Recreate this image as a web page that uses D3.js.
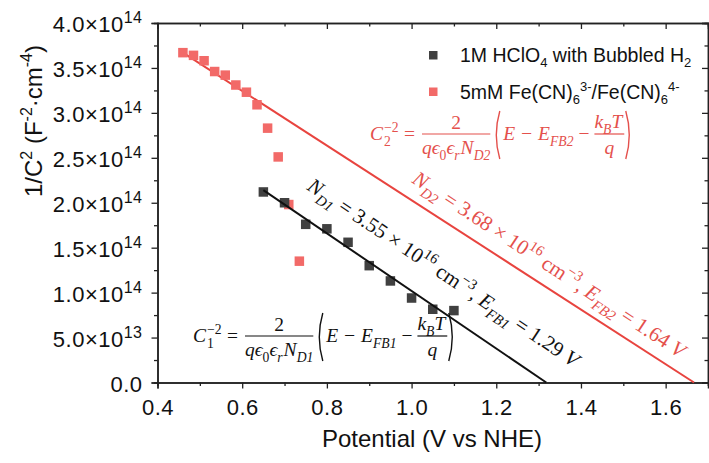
<!DOCTYPE html>
<html>
<head>
<meta charset="utf-8">
<script src="https://cdn.jsdelivr.net/npm/d3@7"></script>
<style>
  body { margin: 0; background: #fff; }
  svg { display: block; }
  .tick text { font-family: "Liberation Sans", Arial, sans-serif; }
</style>
</head>
<body>
<div id="chart"></div>
<script>
// data (y in units of 1e14 F^-2 cm^-4)
var hclo4X = [0.65, 0.70, 0.75, 0.80, 0.85, 0.90, 0.95, 1.00, 1.05, 1.10];
var hclo4Y = [2.12, 2.00, 1.76, 1.71, 1.56, 1.30, 1.13, 0.94, 0.815, 0.80];
var ferroX = [0.46, 0.485, 0.51, 0.535, 0.56, 0.585, 0.61, 0.635, 0.66, 0.685, 0.71, 0.735];
var ferroY = [3.67, 3.64, 3.58, 3.46, 3.42, 3.31, 3.23, 3.09, 2.83, 2.51, 1.98, 1.35];
// Mott-Schottky fits: [x start, y start], [x intercept, 0]
var fit1 = [[0.65, 2.14], [1.318, 0]];
var fit2 = [[0.46, 3.67], [1.667, 0]];
var xTicks = [0.4, 0.6, 0.8, 1.0, 1.2, 1.4, 1.6];
var yTicks = [0, 0.5, 1.0, 1.5, 2.0, 2.5, 3.0, 3.5, 4.0];
var legendNames = ["hclo4", "ferro"];

var W = 709, H = 463;
var m = {l: 157.5, r: 1, t: 23, b: 80.5};
var black = "#404040", redPt = "#f26a68", redLn = "#e8443f", redTx = "#e4504c";
var serif = "'Liberation Serif', 'DejaVu Serif', serif";
var sans = "'Liberation Sans', Arial, sans-serif";

var svg = d3.select("#chart").append("svg").attr("width", W).attr("height", H);

var x = d3.scaleLinear().domain([0.4, 1.7]).range([m.l, W - m.r]);
var y = d3.scaleLinear().domain([0, 4.0]).range([H - m.b, m.t]);

var minorX = d3.range(0.5, 1.71, 0.2);
var minorY = d3.range(0.25, 4.0, 0.5);

function expLabel(sel) {
  sel.each(function(d) {
    var t = d3.select(this).text(null);
    if (d == 0) { t.text("0.0"); return; }
    var e = d < 1 ? 13 : 14, mnt = d < 1 ? d * 10 : d;
    t.append("tspan").text(mnt.toFixed(1) + "×10");
    t.append("tspan").attr("font-size", "16px").attr("dy", "-9").text(e);
  });
}

// axes
var gx = svg.append("g").attr("transform", "translate(0," + y(0) + ")")
  .call(d3.axisBottom(x).tickValues(xTicks).tickFormat(d3.format(".1f")).tickSize(6).tickPadding(11));
gx.selectAll("text").attr("font-size", "22px").attr("fill", "#111").attr("letter-spacing", "0.5px");
svg.append("g").attr("transform", "translate(0," + y(0) + ")")
  .call(d3.axisBottom(x).tickValues(minorX).tickFormat("").tickSize(3.5));

var gy = svg.append("g").attr("transform", "translate(" + m.l + ",0)")
  .call(d3.axisLeft(y).tickValues(yTicks).tickSize(6).tickPadding(9));
gy.selectAll("text").attr("font-size", "22px").attr("fill", "#111").attr("dy", "0.4em")
  .attr("letter-spacing", "0.5px").call(expLabel);
svg.append("g").attr("transform", "translate(" + m.l + ",0)")
  .call(d3.axisLeft(y).tickValues(minorY).tickFormat("").tickSize(3.5));

// top and right frame, ticks inward
svg.append("g").attr("transform", "translate(0," + m.t + ")")
  .call(d3.axisBottom(x).tickValues(xTicks).tickFormat("").tickSize(6));
svg.append("g").attr("transform", "translate(0," + m.t + ")")
  .call(d3.axisBottom(x).tickValues(minorX).tickFormat("").tickSize(3.5));
svg.append("g").attr("transform", "translate(" + (W - m.r) + ",0)")
  .call(d3.axisLeft(y).tickValues(yTicks).tickFormat("").tickSize(6));
svg.append("g").attr("transform", "translate(" + (W - m.r) + ",0)")
  .call(d3.axisLeft(y).tickValues(minorY).tickFormat("").tickSize(3.5));
svg.selectAll(".domain").attr("stroke", "#222").attr("stroke-width", 1.5);
svg.selectAll(".tick line").attr("stroke", "#222").attr("stroke-width", 1.3);

// axis titles
svg.append("text").attr("x", 432).attr("y", 447).attr("text-anchor", "middle")
  .attr("font-family", sans).attr("font-size", "24px").attr("fill", "#111")
  .text("Potential (V vs NHE)");
var yl = svg.append("text").attr("transform", "translate(42,121) rotate(-90)")
  .attr("text-anchor", "middle").attr("font-family", sans).attr("font-size", "24px").attr("fill", "#111");
yl.append("tspan").text("1/C");
yl.append("tspan").attr("font-size", "16px").attr("dy", -10).text("2");
yl.append("tspan").attr("dy", 10).text(" (F");
yl.append("tspan").attr("font-size", "16px").attr("dy", -10).text("-2");
yl.append("tspan").attr("dy", 10).text("·cm");
yl.append("tspan").attr("font-size", "16px").attr("dy", -10).text("-4");
yl.append("tspan").attr("dy", 10).text(")");

// fit lines
var line = d3.line().x(function(d) { return x(d[0]); }).y(function(d) { return y(d[1]); });
svg.append("path").datum(fit2).attr("d", line).attr("stroke", redLn).attr("stroke-width", 2).attr("fill", "none");

// markers
var sq = 9.5;
svg.append("g").selectAll("rect").data(d3.range(ferroX.length)).enter().append("rect")
  .attr("x", function(i) { return x(ferroX[i]) - sq / 2; })
  .attr("y", function(i) { return y(ferroY[i]) - sq / 2; })
  .attr("width", sq).attr("height", sq).attr("fill", redPt);
svg.append("g").selectAll("rect").data(d3.range(hclo4X.length)).enter().append("rect")
  .attr("x", function(i) { return x(hclo4X[i]) - sq / 2; })
  .attr("y", function(i) { return y(hclo4Y[i]) - sq / 2; })
  .attr("width", sq).attr("height", sq).attr("fill", black);
svg.append("path").datum(fit1).attr("d", line).attr("stroke", "#111").attr("stroke-width", 2).attr("fill", "none");

// legend
var leg = svg.append("g").attr("font-family", sans).attr("font-size", "19.5px").attr("fill", "#111");
legendNames.forEach(function(n, i) {
  var yy = 55 + i * 36.5;
  leg.append("rect").attr("x", 429).attr("y", yy - 4).attr("width", 8.5).attr("height", 8.5)
    .attr("fill", i == 0 ? black : redPt);
  var t = leg.append("text").attr("x", 460).attr("y", yy + 7);
  if (i == 0) {
    t.append("tspan").text("1M HClO");
    t.append("tspan").attr("font-size", "13px").attr("dy", 5).text("4");
    t.append("tspan").attr("dy", -5).text(" with Bubbled H");
    t.append("tspan").attr("font-size", "13px").attr("dy", 5).text("2");
  } else {
    t.append("tspan").text("5mM Fe(CN)");
    t.append("tspan").attr("font-size", "13px").attr("dy", 5).text("6");
    t.append("tspan").attr("font-size", "13px").attr("dy", -13).text("3-");
    t.append("tspan").attr("dy", 8).text("/Fe(CN)");
    t.append("tspan").attr("font-size", "13px").attr("dy", 5).text("6");
    t.append("tspan").attr("font-size", "13px").attr("dy", -13).text("4-");
  }
});

// math helpers: parts are [text, "n"|"sub"|"sup", italic, dx, stackUnderPrevious]
function mathText(g, x0, y0, parts, fs) {
  var t = g.append("text").attr("x", x0).attr("y", y0).attr("font-size", fs + "px");
  var shift = 0, prev = null;
  parts.forEach(function(p) {
    var target = p[1] == "sub" ? fs * 0.3 : p[1] == "sup" ? -fs * 0.42 : 0;
    var ts = t.append("tspan").attr("dy", target - shift).text(p[0])
      .attr("font-style", p[2] === false ? "normal" : "italic");
    if (p[1] != "n") ts.attr("font-size", (fs * 0.7) + "px");
    var dx = p[3] || 0;
    if (p[4] && prev) dx -= prev.node().getComputedTextLength();
    if (dx) ts.attr("dx", dx);
    shift = target;
    prev = ts;
  });
  return t;
}
function width(t) { return t.node().getComputedTextLength(); }
function paren(g, px, cy, dir, color) {
  var h = 24, b = 7 * dir;
  g.append("path").attr("d", "M" + (px + b / 2) + "," + (cy - h) + " Q" + (px - b / 2) + "," + cy + " " + (px + b / 2) + "," + (cy + h))
    .attr("fill", "none").attr("stroke", color).attr("stroke-width", 1.4);
}

// barX: left end of the first fraction bar
function equation(barX, barY, idx, color) {
  var fs = 19.5, g = svg.append("g").attr("fill", color).attr("font-family", serif);
  var by = barY + 6;
  mathText(g, barX - 52, by, [["C", "n"], ["−2", "sup", false, 1], [idx, "sub", false, 0, true]], fs);
  g.append("text").attr("x", barX - 7).attr("y", by).attr("text-anchor", "end")
    .attr("font-size", fs + "px").text("=");
  var cx = barX;
  var den = mathText(g, cx, barY + 20, [["qϵ", "n"], ["0", "sub", false], ["ϵ", "n"], ["r", "sub"], ["N", "n", true, 1], ["D" + idx, "sub"]], fs);
  var dw = width(den) + 1;
  g.append("line").attr("x1", cx).attr("x2", cx + dw).attr("y1", barY).attr("y2", barY)
    .attr("stroke", color).attr("stroke-width", 1.2);
  g.append("text").attr("x", cx + dw / 2).attr("y", barY - 5).attr("text-anchor", "middle")
    .attr("font-size", fs + "px").text("2");
  cx += dw + 6;
  paren(g, cx, barY + 1, 1, color);
  cx += 7;
  var mid = mathText(g, cx, by, [["E − E", "n"], ["FB" + idx, "sub"], [" −", "n", false]], fs);
  cx += width(mid) + 5;
  var num = mathText(g, cx, barY - 6, [["k", "n"], ["B", "sub"], ["T", "n"]], fs);
  var nw = width(num) + 2;
  g.append("line").attr("x1", cx).attr("x2", cx + nw).attr("y1", barY).attr("y2", barY)
    .attr("stroke", color).attr("stroke-width", 1.2);
  g.append("text").attr("x", cx + nw / 2).attr("y", barY + 20).attr("text-anchor", "middle")
    .attr("font-size", fs + "px").attr("font-style", "italic").text("q");
  cx += nw + 5;
  paren(g, cx, barY + 1, -1, color);
}
equation(422, 134, "2", redTx);
equation(245, 336, "1", "#111");

// rotated fit annotations
function fitLabel(x0, y0, ang, idx, nd, efb, color) {
  var g = svg.append("g").attr("fill", color).attr("font-family", serif)
    .attr("transform", "translate(" + x0 + "," + y0 + ") rotate(" + ang + ")");
  mathText(g, 0, 0, [["N", "n"], ["D" + idx, "sub"], [" = " + nd + " × 10", "n", false],
    ["16", "sup", false], [" cm", "n", false], ["−3", "sup", false], [", E", "n"], ["FB" + idx, "sub"],
    [" = " + efb + " ", "n", false], ["V", "n"]], 21);
}
fitLabel(306, 189, 33.8, "1", "3.55", "1.29", "#111");
fitLabel(411, 182, 33.3, "2", "3.68", "1.64", redTx);
</script>
</body>
</html>
